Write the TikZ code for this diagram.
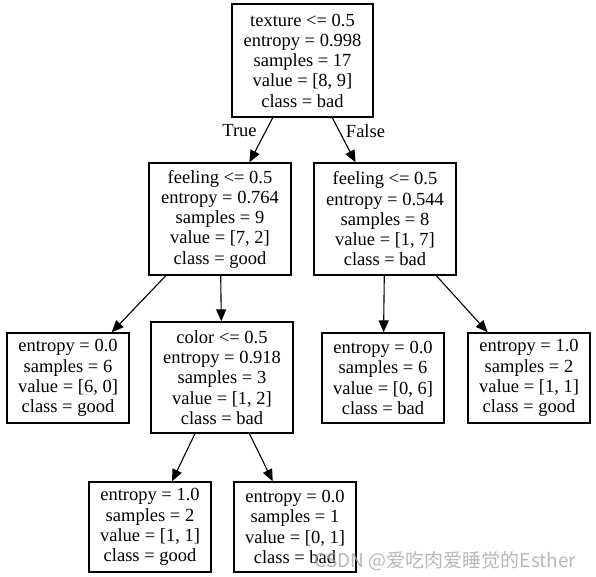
\documentclass[tikz,border=0pt]{standalone}
\usepackage{fontspec}
\setmainfont{Liberation Serif}
\newfontfamily\cjkfont{Noto Sans CJK SC}
\usetikzlibrary{arrows.meta}
\begin{document}
\begin{tikzpicture}[x=1pt,y=-1pt,
  tn/.style={draw=black, line width=1.3pt, align=center, inner sep=0pt,
    font=\fontsize{18.5}{20.25}\selectfont},
  inner/.style={tn, minimum width=142pt, minimum height=112pt},
  leaf/.style={tn, minimum width=122pt, minimum height=90pt},
  edge/.style={draw=black, line width=1.1pt, -{Triangle[length=12pt,width=10pt]}},
  elabel/.style={font=\fontsize{18.5}{20}\selectfont}
]
\useasboundingbox (0,0) rectangle (596,577);
\node[inner, minimum width=141pt, minimum height=113pt] (root) at (302.5,60.5)
  {texture <= 0.5\\entropy = 0.998\\samples = 17\\value = [8, 9]\\class = bad};
\node[inner] (fl) at (220,219)
  {feeling <= 0.5\\entropy = 0.764\\samples = 9\\value = [7, 2]\\class = good};
\node[inner] (fr) at (385,219)
  {feeling <= 0.5\\entropy = 0.544\\samples = 8\\value = [1, 7]\\class = bad};
\node[leaf] (l1) at (68,378)
  {entropy = 0.0\\samples = 6\\value = [6, 0]\\class = good};
\node[inner, minimum height=111pt] (color) at (222,377.5)
  {color <= 0.5\\entropy = 0.918\\samples = 3\\value = [1, 2]\\class = bad};
\node[leaf] (r1) at (383,378)
  {entropy = 0.0\\samples = 6\\value = [0, 6]\\class = bad};
\node[leaf] (r2) at (529,378)
  {entropy = 1.0\\samples = 2\\value = [1, 1]\\class = good};
\node[leaf] (b1) at (150,527)
  {entropy = 1.0\\samples = 2\\value = [1, 1]\\class = good};
\node[leaf] (b2) at (295,527)
  {entropy = 0.0\\samples = 1\\value = [0, 1]\\class = bad};

\draw[edge] (root) -- (fl);
\draw[edge] (root) -- (fr);
\draw[edge] (fl) -- (l1);
\draw[edge] (fl) -- (color);
\draw[edge] (fr) -- (r1);
\draw[edge] (fr) -- (r2);
\draw[edge] (color) -- (b1);
\draw[edge] (color) -- (b2);

\node[elabel] (tlab) at (239.5,131) {True};
\node[elabel] (flab) at (365.5,131) {False};

\node[font=\cjkfont\fontsize{19}{19}\selectfont, text=gray!70, opacity=0.8, inner sep=0pt]
  (wm) at (445.5,561) {CSDN @爱吃肉爱睡觉的Esther};
\end{tikzpicture}
\end{document}
